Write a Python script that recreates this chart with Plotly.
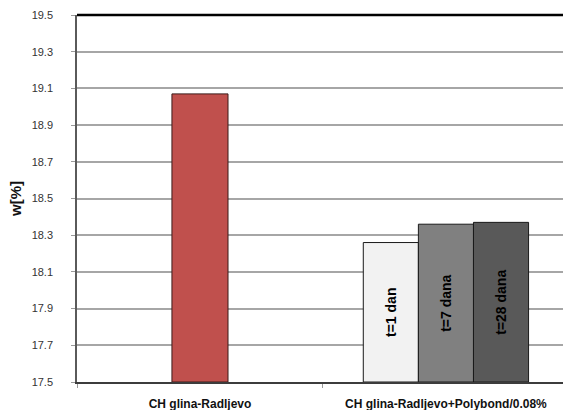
import plotly.graph_objects as go

categories = ["CH glina-Radljevo", "CH glina-Radljevo+Polybond/0.08%"]
base_value = [19.07]
series_names = ["t=1 dan", "t=7 dana", "t=28 dana"]
series_values = [18.26, 18.36, 18.37]
y_ticks = [17.5, 17.7, 17.9, 18.1, 18.3, 18.5, 18.7, 18.9, 19.1, 19.3, 19.5]

y_min = y_ticks[0]
series_colors = ["#f2f2f2", "#808080", "#595959"]
bw = 0.224

fig = go.Figure()
fig.add_trace(go.Bar(
    x=[categories[0]], y=[v - y_min for v in base_value], base=y_min,
    width=0.228, offset=-0.114,
    marker=dict(color="#c0504d", line=dict(color="#3b1a19", width=1)),
    showlegend=False, hoverinfo="skip",
))
for i, (name, val) in enumerate(zip(series_names, series_values)):
    fig.add_trace(go.Bar(
        x=[categories[1]], y=[val - y_min], base=y_min,
        width=bw, offset=(i - 1.5) * bw,
        marker=dict(color=series_colors[i], line=dict(color="#1a1a1a", width=1)),
        text=[name], textposition="inside", textangle=-90,
        insidetextanchor="middle", constraintext="none",
        textfont=dict(family="Liberation Sans", size=14, color="#000000", weight="bold"),
        showlegend=False, hoverinfo="skip",
    ))

fig.update_layout(
    width=563, height=410,
    margin=dict(l=77, r=0, t=15, b=28, autoexpand=False),
    paper_bgcolor="white", plot_bgcolor="white",
    barmode="overlay",
    font=dict(family="Liberation Sans", color="#222222"),
    xaxis=dict(
        type="category", range=[-0.5, 1.476], automargin=False,
        showline=True, linecolor="#3c3c3c", linewidth=1.5,
        ticks="outside", tickson="boundaries", ticklen=4, tickcolor="#9a9a9a",
        ticklabelstandoff=10,
        tickfont=dict(size=12, color="#111111", weight="bold"),
        showgrid=False,
    ),
    yaxis=dict(
        range=[17.5, 19.5], tickvals=y_ticks, tickformat=".1f", automargin=False,
        showline=True, linecolor="#5a5a5a", linewidth=1.5,
        ticks="outside", ticklen=4, tickcolor="#9a9a9a",
        ticklabelstandoff=16,
        tickfont=dict(size=11, color="#333333"),
        showgrid=True, gridcolor="#a6a6a6", gridwidth=1.5,
        zeroline=False,
        title=dict(text="w[%]", font=dict(size=15, color="#111111", weight="bold"), standoff=6),
    ),
    shapes=[dict(type="line", xref="paper", yref="paper", x0=0, x1=1, y0=1, y1=1,
                 line=dict(color="#000000", width=2.5))],
)

fig.write_html("out.html", config={"displayModeBar": False},
               post_script="document.body.style.margin='0';document.body.style.overflow='hidden';")
